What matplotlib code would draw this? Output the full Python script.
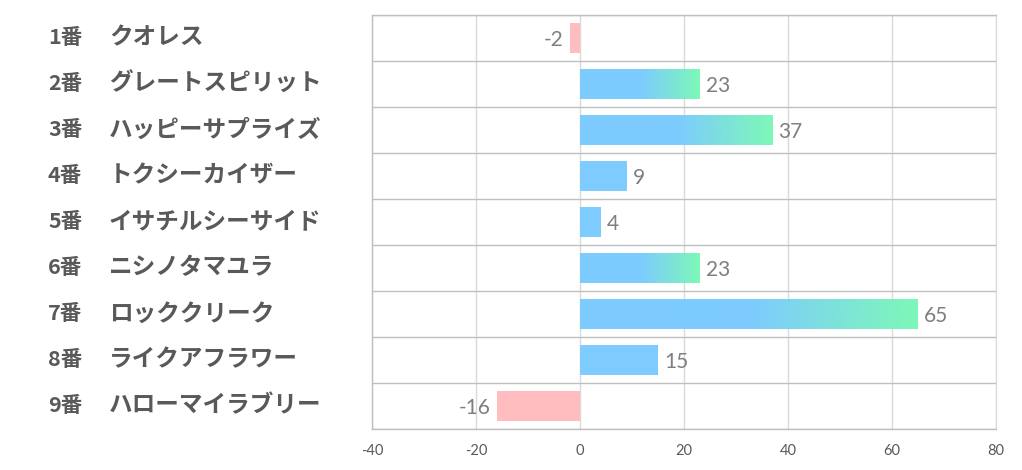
import matplotlib
matplotlib.use("Agg")
import matplotlib.pyplot as plt
import numpy as np
from matplotlib.colors import LinearSegmentedColormap

numbers = ["1番", "2番", "3番", "4番", "5番", "6番", "7番", "8番", "9番"]
names = ["クオレス", "グレートスピリット", "ハッピーサプライズ", "トクシーカイザー",
         "イサチルシーサイド", "ニシノタマユラ", "ロッククリーク", "ライクアフラワー", "ハローマイラブリー"]
values = [-2, 23, 37, 9, 4, 23, 65, 15, -16]
gradient_flags = [False, True, True, False, False, True, True, False, False]
xticks = [-40, -20, 0, 20, 40, 60, 80]

BLUE = "#7dcbff"
GREEN = "#7df8b8"
PINK = "#ffbdc0"
LABEL_C = "#595959"
VAL_C = "#7f7f7f"

plt.rcParams['font.family'] = ['Noto Sans CJK JP', 'DejaVu Sans']

fig = plt.figure(figsize=(10.22, 4.70), dpi=100)
ax = fig.add_axes([372/1022, 1 - 429/470, (996-372)/1022, (429-15)/470])

y = np.arange(len(values))
colors = [BLUE if v >= 0 else PINK for v in values]
bars = ax.barh(y, values, height=0.67, color=colors, zorder=2)

cmap = LinearSegmentedColormap.from_list("g", [(0, BLUE), (0.5, BLUE), (1, GREEN)])
grad = np.linspace(0, 1, 256).reshape(1, -1)
for bar, g in zip(bars, gradient_flags):
    if not g:
        continue
    x0, y0 = bar.get_x(), bar.get_y()
    w, h = bar.get_width(), bar.get_height()
    im = ax.imshow(grad, cmap=cmap, aspect='auto', extent=(x0, x0 + w, y0 + h, y0),
                   zorder=3, interpolation='bilinear')
    im.set_clip_path(bar)

ax.set_xlim(-40, 80)
ax.set_ylim(len(values) - 0.5, -0.5)
ax.set_xticks(xticks)
ax.set_xticklabels([str(t) for t in xticks], fontsize=10.5, color=LABEL_C,
                   family=['Lato', 'DejaVu Sans'])
ax.tick_params(axis='x', length=0, pad=11)
ax.set_yticks([])

ax.set_yticks(np.arange(-0.5, len(values), 1), minor=True)
ax.tick_params(axis='y', which='minor', length=0)
ax.grid(axis='y', which='minor', color='#bfbfbf', linewidth=1, zorder=1)
ax.grid(axis='x', which='major', color='#d9d9d9', linewidth=1, zorder=1)
ax.set_axisbelow(True)

for s in ['top', 'bottom', 'left']:
    ax.spines[s].set_color('#bfbfbf')
    ax.spines[s].set_linewidth(1)
ax.spines['right'].set_color('#d9d9d9')

for yi, v in zip(y, values):
    if v >= 0:
        ax.annotate(str(v), (v, yi), xytext=(4.5, -1.5), textcoords='offset points',
                    ha='left', va='center', fontsize=15, color=VAL_C,
                    family=['Lato', 'DejaVu Sans'])
    else:
        ax.annotate(str(v), (v, yi), xytext=(-4.5, -1.5), textcoords='offset points',
                    ha='right', va='center', fontsize=15, color=VAL_C,
                    family=['Lato', 'DejaVu Sans'])

for yi, num, name in zip(y, numbers, names):
    ty = 1 - (37.5 + 46 * yi) / 470
    fig.text(48/1022, ty, num, ha='left', va='center', fontsize=15.5,
             fontweight='bold', color=LABEL_C)
    fig.text(109/1022, ty, name, ha='left', va='center', fontsize=17,
             fontweight='bold', color=LABEL_C)

fig.savefig("out.png", dpi=100)
